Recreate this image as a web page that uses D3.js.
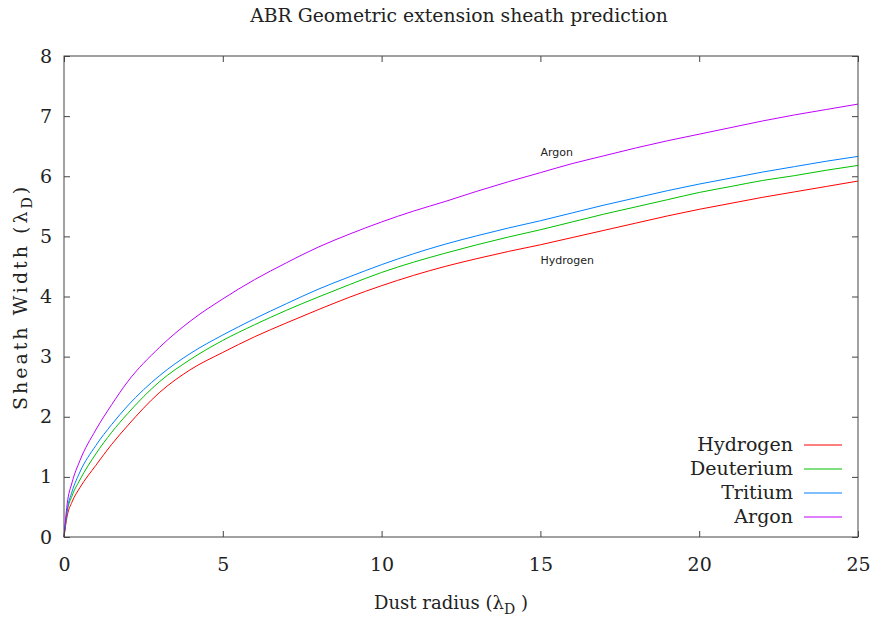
<!DOCTYPE html>
<html>
<head>
<meta charset="utf-8">
<script src="https://cdn.jsdelivr.net/npm/d3@7"></script>
<style>
  html, body { margin: 0; padding: 0; background: #fff; }
  svg { display: block; }
  .serif { font-family: "DejaVu Serif", "Liberation Serif", serif; fill: #222; }
  .sans { font-family: "DejaVu Sans", "Liberation Sans", sans-serif; fill: #222; }
</style>
</head>
<body>
<svg id="chart" width="873" height="619"></svg>
<script>
// Dust radius samples (in Debye lengths)
const radius = [0, 0.1, 0.25, 0.5, 1, 1.5, 2, 3, 4, 5, 6, 7, 8, 9, 10, 11, 12, 13, 14, 15, 16, 17, 18, 19, 20, 21, 22, 23, 24, 25];

// Sheath width for each ion species
const hydrogen  = [0, 0.35, 0.58, 0.82, 1.19, 1.54, 1.85, 2.40, 2.79, 3.07, 3.33, 3.56, 3.78, 3.99, 4.18, 4.35, 4.50, 4.63, 4.75, 4.86, 4.98, 5.10, 5.22, 5.34, 5.45, 5.55, 5.65, 5.74, 5.83, 5.92];
const deuterium = [0, 0.42, 0.68, 0.95, 1.38, 1.74, 2.05, 2.58, 2.96, 3.27, 3.53, 3.77, 3.99, 4.20, 4.40, 4.57, 4.72, 4.86, 4.99, 5.11, 5.24, 5.37, 5.49, 5.61, 5.73, 5.83, 5.93, 6.01, 6.10, 6.18];
const tritium   = [0, 0.45, 0.75, 1.08, 1.52, 1.87, 2.18, 2.68, 3.06, 3.36, 3.63, 3.88, 4.12, 4.33, 4.53, 4.71, 4.87, 5.01, 5.14, 5.26, 5.39, 5.52, 5.64, 5.76, 5.87, 5.97, 6.07, 6.16, 6.25, 6.33];
const argon     = [0, 0.55, 0.90, 1.27, 1.78, 2.20, 2.58, 3.15, 3.60, 3.96, 4.28, 4.56, 4.82, 5.04, 5.24, 5.42, 5.58, 5.75, 5.91, 6.06, 6.21, 6.34, 6.47, 6.59, 6.70, 6.81, 6.92, 7.02, 7.11, 7.20];

const seriesNames = ["Hydrogen", "Deuterium", "Tritium", "Argon"];
const seriesColors = ["#ff0000", "#00c000", "#0080ff", "#c000ff"];
const seriesValues = [hydrogen, deuterium, tritium, argon];

const xTicks = [0, 5, 10, 15, 20, 25];
const yTicks = [0, 1, 2, 3, 4, 5, 6, 7, 8];

// In-plot annotations
const annotations = [
  { text: "Argon", x: 15, y: 6.4 },
  { text: "Hydrogen", x: 15, y: 4.6 }
];

const svg = d3.select("#chart");
const plotLeft = 64, plotRight = 858, plotTop = 56, plotBottom = 537;

const x = d3.scaleLinear().domain([0, 25]).range([plotLeft, plotRight]);
const y = d3.scaleLinear().domain([0, 8]).range([plotBottom, plotTop]);

const axisColor = "#444";
const tickLen = 6;
const serifFont = "DejaVu Serif, Liberation Serif, serif";

// Curves
const line = d3.line().curve(d3.curveMonotoneX).x(d => x(d[0])).y(d => y(d[1]));
seriesValues.forEach((vals, i) => {
  svg.append("path")
    .datum(radius.map((r, k) => [r, vals[k]]))
    .attr("d", line)
    .attr("fill", "none")
    .attr("stroke", seriesColors[i])
    .attr("stroke-width", 1);
});

// Frame
svg.append("rect")
  .attr("x", plotLeft).attr("y", plotTop)
  .attr("width", plotRight - plotLeft).attr("height", plotBottom - plotTop)
  .attr("fill", "none").attr("stroke", axisColor).attr("stroke-width", 1);

// Axes with inward ticks, mirrored on top and right
const fontTick = 19;
const bottomAxis = d3.axisBottom(x).tickValues(xTicks).tickSize(-tickLen).tickPadding(tickLen + 15).tickFormat(d3.format("d"));
const topAxis = d3.axisTop(x).tickValues(xTicks).tickSize(-tickLen).tickFormat("");
const leftAxis = d3.axisLeft(y).tickValues(yTicks).tickSize(-tickLen).tickPadding(tickLen + 6).tickFormat(d3.format("d"));
const rightAxis = d3.axisRight(y).tickValues(yTicks).tickSize(-tickLen).tickFormat("");

function styleAxis(g) {
  g.select(".domain").remove();
  g.selectAll(".tick line").attr("stroke", axisColor);
  g.selectAll(".tick text")
    .attr("font-family", serifFont)
    .attr("font-size", fontTick)
    .attr("fill", "#222");
}

svg.append("g").attr("transform", `translate(0,${plotBottom})`).call(bottomAxis).call(styleAxis);
svg.append("g").attr("transform", `translate(0,${plotTop})`).call(topAxis).call(styleAxis);
svg.append("g").attr("transform", `translate(${plotLeft},0)`).call(leftAxis).call(styleAxis);
svg.append("g").attr("transform", `translate(${plotRight},0)`).call(rightAxis).call(styleAxis);

// Title
svg.append("text").attr("class", "serif")
  .attr("x", 459).attr("y", 22)
  .attr("text-anchor", "middle").attr("font-size", 18.8)
  .text("ABR Geometric extension sheath prediction");

// Axis titles
const xl = svg.append("text").attr("class", "serif")
  .attr("x", 451).attr("y", 609)
  .attr("text-anchor", "middle").attr("font-size", 18);
xl.append("tspan").text("Dust radius (λ");
xl.append("tspan").attr("font-size", 14).attr("dy", 5).text("D");
xl.append("tspan").attr("dy", -5).text(" )");

const yl = svg.append("text").attr("class", "serif")
  .attr("transform", "translate(27,297) rotate(-90)")
  .attr("text-anchor", "middle").attr("font-size", 19)
  .attr("letter-spacing", 3);
yl.append("tspan").text("Sheath Width (λ");
yl.append("tspan").attr("font-size", 14).attr("dy", 5).text("D");
yl.append("tspan").attr("dy", -5).text(")");

// Annotations
annotations.forEach(a => {
  svg.append("text").attr("class", "sans")
    .attr("x", x(a.x)).attr("y", y(a.y))
    .attr("dy", "0.35em").attr("font-size", 11)
    .text(a.text);
});

// Legend
const legendTop = 445, legendStep = 24;
seriesNames.forEach((name, i) => {
  const ly = legendTop + i * legendStep;
  svg.append("text").attr("class", "serif")
    .attr("x", 793).attr("y", ly).attr("dy", "0.33em")
    .attr("text-anchor", "end").attr("font-size", fontTick)
    .text(name);
  svg.append("line")
    .attr("x1", 804).attr("x2", 842).attr("y1", ly).attr("y2", ly)
    .attr("stroke", seriesColors[i]).attr("stroke-width", 1);
});
</script>
</body>
</html>
